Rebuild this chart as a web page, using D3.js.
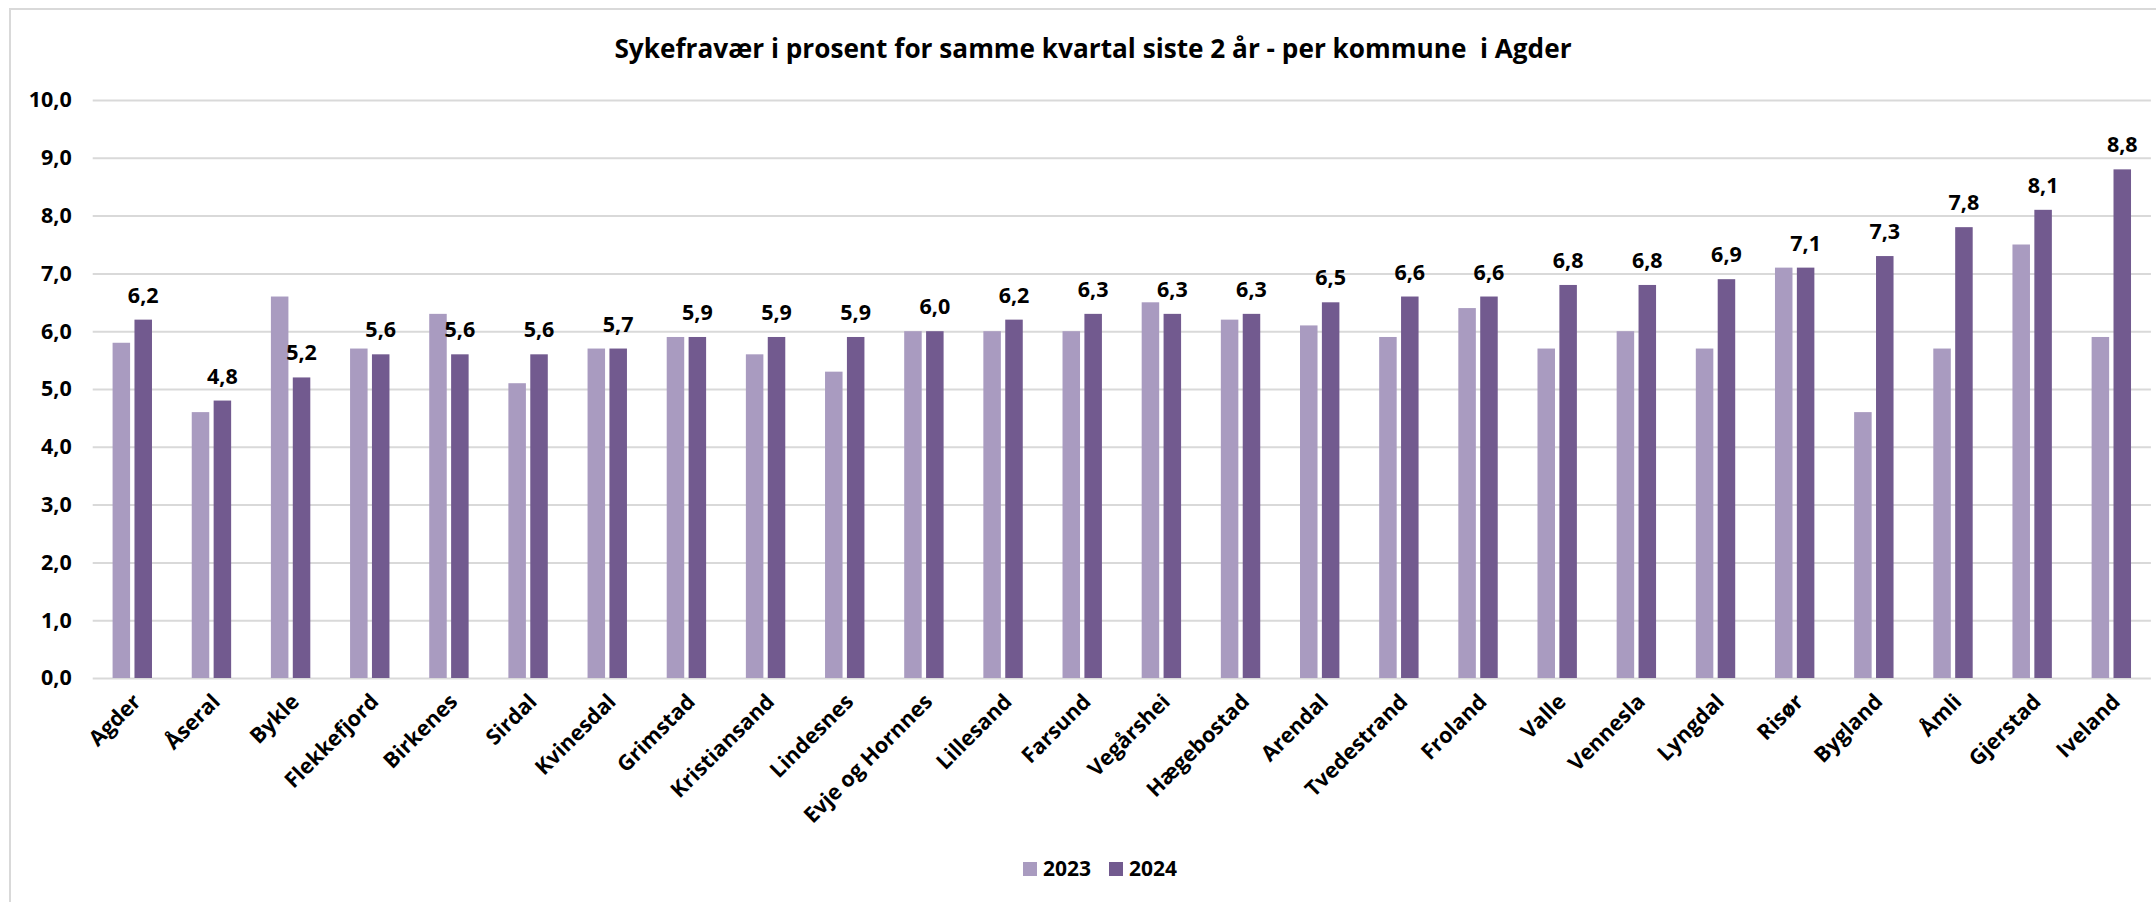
<!DOCTYPE html>
<html>
<head>
<meta charset="utf-8">
<script src="https://cdn.jsdelivr.net/npm/d3@7"></script>
<style>
  html, body { margin: 0; padding: 0; background: #fff; }
  svg { display: block; font-family: 'Open Sans', sans-serif; font-weight: bold; }
  .grid line { stroke: #d9d9d9; stroke-width: 2; }
  .grid path { display: none; }
  .tick text { fill: #000; }
</style>
</head>
<body>
<svg id="chart"></svg>
<script>
const WIDTH = 2156
const HEIGHT = 902

const TITLE = 'Sykefravær i prosent for samme kvartal siste 2 år - per kommune  i Agder'

const kommuner = [
  'Agder', 'Åseral', 'Bykle', 'Flekkefjord', 'Birkenes', 'Sirdal', 'Kvinesdal',
  'Grimstad', 'Kristiansand', 'Lindesnes', 'Evje og Hornnes', 'Lillesand', 'Farsund',
  'Vegårshei', 'Hægebostad', 'Arendal', 'Tvedestrand', 'Froland', 'Valle', 'Vennesla',
  'Lyngdal', 'Risør', 'Bygland', 'Åmli', 'Gjerstad', 'Iveland'
]
const years = ['2023', '2024']
const values2023 = [5.8, 4.6, 6.6, 5.7, 6.3, 5.1, 5.7, 5.9, 5.6, 5.3, 6.0, 6.0, 6.0,
  6.5, 6.2, 6.1, 5.9, 6.4, 5.7, 6.0, 5.7, 7.1, 4.6, 5.7, 7.5, 5.9]
const values2024 = [6.2, 4.8, 5.2, 5.6, 5.6, 5.6, 5.7, 5.9, 5.9, 5.9, 6.0, 6.2, 6.3,
  6.3, 6.3, 6.5, 6.6, 6.6, 6.8, 6.8, 6.9, 7.1, 7.3, 7.8, 8.1, 8.8]
const yTicks = [0, 1, 2, 3, 4, 5, 6, 7, 8, 9, 10]

const colors = { '2023': '#a99bc0', '2024': '#725a8f' }
const fmt = v => d3.format('.1f')(v).replace('.', ',')

const svg = d3.select('#chart')
  .attr('width', WIDTH)
  .attr('height', HEIGHT)

// frame (only left and top edges are visible in the crop)
svg.append('path')
  .attr('d', `M10,${HEIGHT} V9 H${WIDTH}`)
  .attr('fill', 'none')
  .attr('stroke', '#d9d9d9')
  .attr('stroke-width', 2)

const x = d3.scaleBand()
  .domain(kommuner)
  .range([92.7, 2150.9])

const xSub = d3.scaleBand()
  .domain(years)
  .range([x.bandwidth() / 2 - 19.7, x.bandwidth() / 2 + 19.7])
  .paddingInner(0.2)

const y = d3.scaleLinear()
  .domain([0, 10])
  .range([678, 100])

// gridlines + y labels
svg.append('g')
  .attr('class', 'grid')
  .attr('transform', 'translate(92.7, 0)')
  .call(d3.axisLeft(y)
    .tickValues(yTicks)
    .tickSize(-(2150.9 - 92.7))
    .tickPadding(21)
    .tickFormat(fmt))
  .call(g => g.selectAll('text')
    .style('font-size', '21.5px')
    .style('font-family', "'Open Sans', sans-serif")
    .style('font-weight', 'bold'))

const rows = kommuner.map((k, i) => ({ k, '2023': values2023[i], '2024': values2024[i] }))

const groups = svg.append('g')
  .selectAll('g')
  .data(rows)
  .join('g')
  .attr('transform', d => `translate(${x(d.k)}, 0)`)

groups.selectAll('rect')
  .data(d => years.map(yr => ({ yr, v: d[yr] })))
  .join('rect')
  .attr('x', d => xSub(d.yr))
  .attr('width', xSub.bandwidth())
  .attr('y', d => y(d.v))
  .attr('height', d => y(0) - y(d.v))
  .attr('fill', d => colors[d.yr])

// data labels for 2024 only
groups.append('text')
  .attr('x', xSub('2024') + xSub.bandwidth() / 2)
  .attr('y', d => y(d['2024']) - 17)
  .attr('text-anchor', 'middle')
  .style('font-size', '21.5px')
  .text(d => fmt(d['2024']))

// x axis labels
svg.append('g')
  .selectAll('text')
  .data(kommuner)
  .join('text')
  .attr('text-anchor', 'end')
  .attr('transform', d => `translate(${x(d) + x.bandwidth() / 2 + 10}, 703) rotate(-45)`)
  .style('font-size', '21.5px')
  .text(d => d)

// title
svg.append('text')
  .attr('x', 1093)
  .attr('y', 58)
  .attr('text-anchor', 'middle')
  .attr('xml:space', 'preserve')
  .style('font-size', '26.2px')
  .text(TITLE)

// legend
const legend = svg.append('g')
  .attr('transform', 'translate(1023, 862)')
const legendItems = legend.selectAll('g')
  .data(years)
  .join('g')
  .attr('transform', (d, i) => `translate(${i * 86}, 0)`)
legendItems.append('rect')
  .attr('width', 14)
  .attr('height', 14)
  .attr('fill', d => colors[d])
legendItems.append('text')
  .attr('x', 20)
  .attr('y', 14)
  .style('font-size', '21px')
  .text(d => d)
</script>
</body>
</html>
